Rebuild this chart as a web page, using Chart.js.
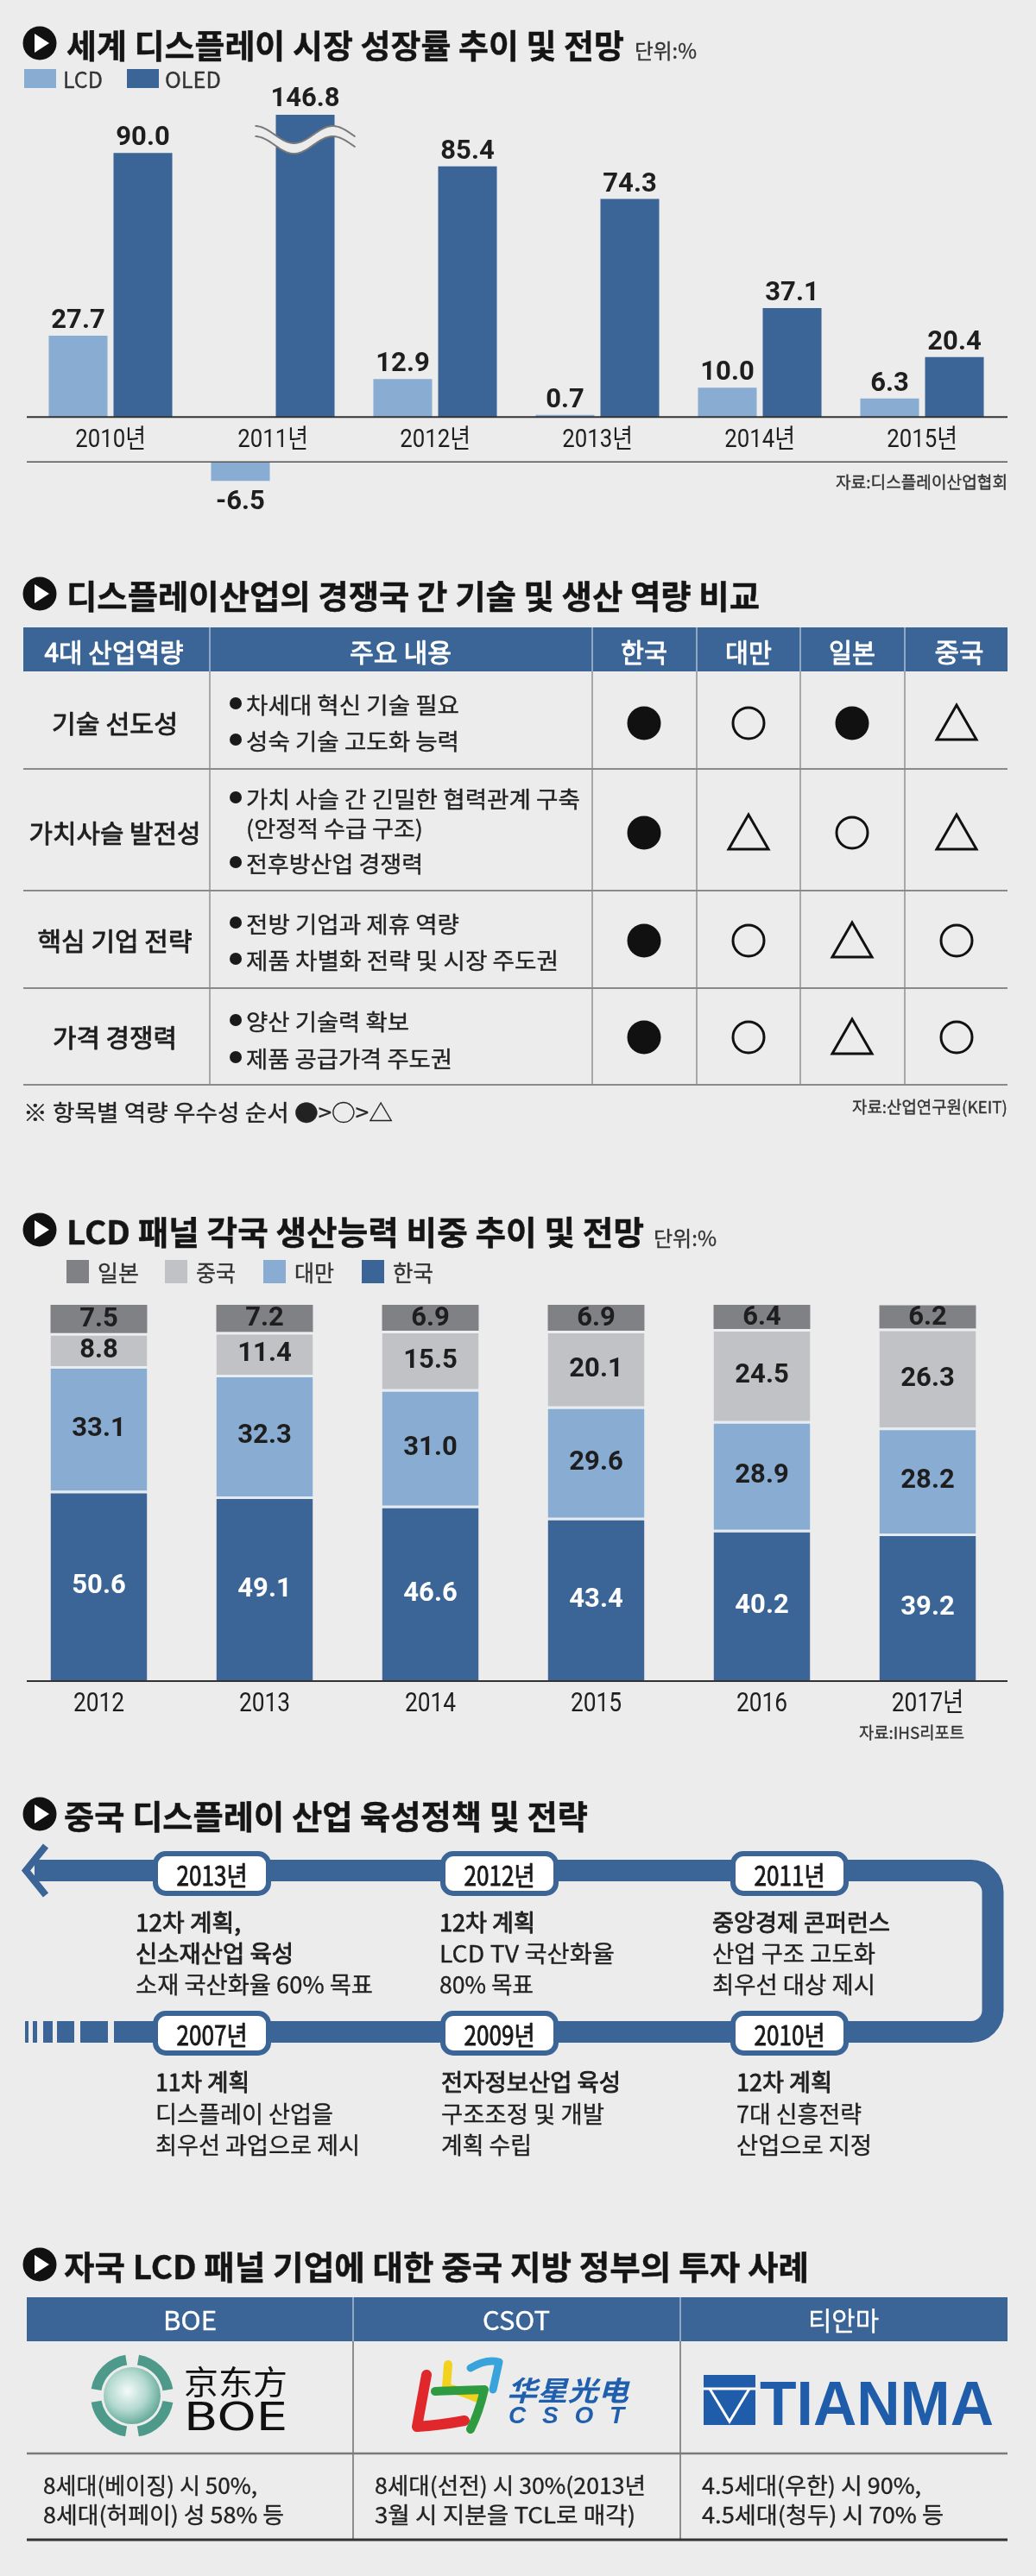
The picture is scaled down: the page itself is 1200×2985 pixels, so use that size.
<!DOCTYPE html>
<html>
<head>
<meta charset="utf-8">
<script src="https://cdn.jsdelivr.net/npm/chart.js@4.4.1/dist/chart.umd.min.js"></script>
<style>
  html, body { margin: 0; padding: 0; background: #ececec; }
  #page { position: relative; width: 1200px; height: 2985px; overflow: hidden; background: #ececec; }
  canvas { position: absolute; left: 0; }
  #art { position: absolute; left: 0; top: 0; }
</style>
</head>
<body>
<div id="page">
  <canvas id="growthChart" width="1200" height="620" style="top:0;width:1200px;height:620px"></canvas>
  <canvas id="shareChart" width="1200" height="540" style="top:1490px;width:1200px;height:540px"></canvas>
  <svg id="art" width="1200" height="2985" xmlns="http://www.w3.org/2000/svg"></svg>
</div>
<script>
// --- chart data ---
const growthYears = ['2010년', '2011년', '2012년', '2013년', '2014년', '2015년'];
const lcdGrowth = [27.7, -6.5, 12.9, 0.7, 10.0, 6.3];
const oledGrowth = [90.0, 146.8, 85.4, 74.3, 37.1, 20.4];

const shareYears = ['2012', '2013', '2014', '2015', '2016', '2017년'];
const shareKorea = [50.6, 49.1, 46.6, 43.4, 40.2, 39.2];
const shareTaiwan = [33.1, 32.3, 31.0, 29.6, 28.9, 28.2];
const shareChina = [8.8, 11.4, 15.5, 20.1, 24.5, 26.3];
const shareJapan = [7.5, 7.2, 6.9, 6.9, 6.4, 6.2];

const BG = '#ececec';
const BLUE = '#3b6596';
const LIGHT_BLUE = '#89acd3';
const CHINA_GRAY = '#c0c2c5';
const JAPAN_GRAY = '#7f8184';
const INK = '#1e1e1e';
const NUM_FONT = 'Roboto, "Noto Sans CJK KR", sans-serif';
const KR = '"Noto Sans CJK KR", sans-serif';

// negatives hang below the year-label strip, axis is cut above GROWTH_MAX
const NEG_BASE = -15.3;
const GROWTH_MAX = 103;

function squashText(ctx, text, cx, cy, font, sx, color) {
  ctx.save();
  ctx.translate(cx, cy);
  ctx.scale(sx, 1);
  ctx.font = font;
  ctx.fillStyle = color;
  ctx.textAlign = 'center';
  ctx.textBaseline = 'middle';
  ctx.fillText(text, 0, 0);
  ctx.restore();
}

function hLine(ctx, x0, x1, y, color, w) {
  ctx.strokeStyle = color;
  ctx.lineWidth = w;
  ctx.beginPath();
  ctx.moveTo(x0, y);
  ctx.lineTo(x1, y);
  ctx.stroke();
}

// wave mark for the cut bar
function drawWave(ctx, cx, cy) {
  const x0 = cx - 58, x1 = cx + 58, gap = 12, amp = 10, period = 90;
  const f = x => cy - amp * Math.cos(2 * Math.PI * (x - x0) / period);
  ctx.save();
  ctx.beginPath();
  for (let x = x0; x <= x1; x += 2) ctx.lineTo(x, f(x) - gap / 2);
  for (let x = x1; x >= x0; x -= 2) ctx.lineTo(x, f(x) + gap / 2);
  ctx.closePath();
  ctx.fillStyle = BG;
  ctx.fill();
  ctx.strokeStyle = '#7a7a7a';
  ctx.lineWidth = 2;
  [-gap / 2, gap / 2].forEach(off => {
    ctx.beginPath();
    for (let x = x0; x <= x1; x += 2) ctx.lineTo(x, f(x) + off);
    ctx.stroke();
  });
  ctx.restore();
}

const growthDecor = {
  id: 'growthDecor',
  afterDatasetsDraw(chart) {
    const { ctx, chartArea, scales: { x, y } } = chart;
    const zeroY = y.getPixelForValue(0);
    const lowY = y.getPixelForValue(NEG_BASE);
    ctx.save();
    hLine(ctx, 31, 1167, zeroY, '#333', 2);
    hLine(ctx, 31, 1167, lowY, '#555', 1.6);
    growthYears.forEach((t, i) => {
      squashText(ctx, t, x.getPixelForValue(i), (zeroY + lowY) / 2 + 1, '30px ' + NUM_FONT, 0.86, INK);
    });
    [lcdGrowth, oledGrowth].forEach((vals, d) => {
      const meta = chart.getDatasetMeta(d);
      vals.forEach((v, i) => {
        const bar = meta.data[i];
        let ty = bar.y - 9;
        if (v < 0) ty = bar.y + 33;
        if (v > GROWTH_MAX) {
          drawWave(ctx, bar.x, chartArea.top + 29);
          ty = chartArea.top - 10;
        }
        ctx.font = 'bold 31px ' + NUM_FONT;
        ctx.fillStyle = INK;
        ctx.textAlign = 'center';
        ctx.textBaseline = 'alphabetic';
        ctx.fillText(v.toFixed(1), bar.x, ty);
      });
    });
    ctx.restore();
  }
};

new Chart(document.getElementById('growthChart').getContext('2d'), {
  type: 'bar',
  data: {
    labels: growthYears,
    datasets: [{
      label: 'LCD',
      data: lcdGrowth.map(v => v < 0 ? [NEG_BASE, NEG_BASE + v] : v),
      backgroundColor: LIGHT_BLUE,
      categoryPercentage: 0.798,
      barPercentage: 0.907
    }, {
      label: 'OLED',
      data: oledGrowth,
      backgroundColor: BLUE,
      categoryPercentage: 0.798,
      barPercentage: 0.907
    }]
  },
  options: {
    responsive: false,
    animation: false,
    layout: { padding: { top: 133, bottom: 62, left: 34, right: 38 } },
    plugins: { legend: { display: false }, tooltip: { enabled: false } },
    scales: {
      x: { display: false },
      y: { display: false, min: -22, max: GROWTH_MAX }
    }
  },
  plugins: [growthDecor]
});

const shareDecor = {
  id: 'shareDecor',
  afterDatasetsDraw(chart) {
    const { ctx, scales: { x, y } } = chart;
    ctx.save();
    chart.data.datasets.forEach((ds, d) => {
      chart.getDatasetMeta(d).data.forEach((bar, i) => {
        ctx.font = 'bold 31px ' + NUM_FONT;
        ctx.fillStyle = d === 0 ? '#ffffff' : INK;
        ctx.textAlign = 'center';
        ctx.textBaseline = 'middle';
        ctx.fillText(ds.data[i].toFixed(1), bar.x, (bar.y + bar.base) / 2 + 1);
      });
    });
    const base = y.getPixelForValue(0);
    hLine(ctx, 31, 1167, base, '#333', 2);
    shareYears.forEach((t, i) => {
      squashText(ctx, t, x.getPixelForValue(i), base + 27, '31px ' + NUM_FONT, 0.85, INK);
    });
    ctx.restore();
  }
};

const sepBorder = { top: 3, right: 0, bottom: 0, left: 0 };
new Chart(document.getElementById('shareChart').getContext('2d'), {
  type: 'bar',
  data: {
    labels: shareYears,
    datasets: [
      { label: '한국', data: shareKorea, backgroundColor: BLUE, borderColor: '#e4eaf1', borderWidth: sepBorder },
      { label: '대만', data: shareTaiwan, backgroundColor: LIGHT_BLUE, borderColor: '#e8edf2', borderWidth: sepBorder },
      { label: '중국', data: shareChina, backgroundColor: CHINA_GRAY, borderColor: '#eeeeee', borderWidth: sepBorder },
      { label: '일본', data: shareJapan, backgroundColor: JAPAN_GRAY, borderWidth: 0 }
    ]
  },
  options: {
    responsive: false,
    animation: false,
    datasets: { bar: { categoryPercentage: 1, barPercentage: 0.583, borderSkipped: false } },
    layout: { padding: { top: 22, bottom: 82, left: 18.5, right: 29.5 } },
    plugins: { legend: { display: false }, tooltip: { enabled: false } },
    scales: {
      x: { display: false, stacked: true },
      y: { display: false, stacked: true, min: 0, max: 100 }
    }
  },
  plugins: [shareDecor]
});

// --- the rest of the infographic (titles, tables, timeline) ---
const parts = [];
// thin outline in the fill colour thickens the glyphs a little, like the original type
const heft = { 400: 0.35, 500: 0.9, 700: 0.45 };
function txt(str, x, y, size, o = {}) {
  const w = o.w ? ` textLength="${o.w}" lengthAdjust="${o.adjust || 'spacingAndGlyphs'}"` : '';
  const base = o.baseline || 'central';
  const fill = o.fill || INK;
  const weight = o.weight || 400;
  const sw = o.heft !== undefined ? o.heft : heft[weight];
  const stroke = sw ? ` stroke="${fill}" stroke-width="${sw}" stroke-linejoin="round"` : '';
  parts.push(`<text x="${x}" y="${y}" font-size="${size}" font-weight="${weight === 500 ? 400 : weight}" fill="${fill}"${stroke}` +
    ` dominant-baseline="${base}" font-family='${o.family || KR}'${o.italic ? ' font-style="italic"' : ''}${w}>${str}</text>`);
}
function ctxt(str, cx, y, size, w, o = {}) { txt(str, cx - w / 2, y, size, Object.assign({ w }, o)); }
function rtxt(str, rx, y, size, w, o = {}) { txt(str, rx - w, y, size, Object.assign({ w }, o)); }

function title(str, cy, x, w) {
  parts.push(`<circle cx="46" cy="${cy}" r="19.5" fill="#111"/>`);
  parts.push(`<polygon points="40,${cy - 11} 40,${cy + 11} 57,${cy}" fill="#fff"/>`);
  txt(str, x, cy, 38, { weight: 700, w, fill: '#151515' });
}

// section 1
title('세계 디스플레이 시장 성장률 추이 및 전망', 50, 77, 646);
txt('단위:%', 735, 57, 24, { w: 72, fill: '#333' });
parts.push(`<rect x="28" y="80" width="37" height="22" fill="${LIGHT_BLUE}"/>`);
txt('LCD', 73, 91, 25, { w: 46, fill: '#333' });
parts.push(`<rect x="147" y="80" width="37" height="22" fill="${BLUE}"/>`);
txt('OLED', 191, 91, 25, { w: 65, fill: '#333' });
rtxt('자료:디스플레이산업협회', 1167, 557, 19, 199, { fill: '#333' });

// section 2 table
title('디스플레이산업의 경쟁국 간 기술 및 생산 역량 비교', 688, 77, 803);
const headCols = [['4대 산업역량', 132, 161], ['주요 내용', 464, 118], ['한국', 746, 54], ['대만', 867, 54], ['일본', 987, 54], ['중국', 1111, 57]];
const colLines = [243, 686, 807, 927, 1048];
const markCols = [746, 867, 987, 1108];
const capability = [
  { name: '기술 선도성', w: 146, cy: 837, bottom: 891,
    notes: [['차세대 혁신 기술 필요', 815, 247, true], ['성숙 기술 고도화 능력', 857, 247, true]],
    marks: ['full', 'open', 'full', 'tri'] },
  { name: '가치사슬 발전성', w: 199, cy: 964, bottom: 1032,
    notes: [['가치 사슬 간 긴밀한 협력관계 구축', 924, 387, true], ['(안정적 수급 구조)', 958, 205, false], ['전후방산업 경쟁력', 999, 205, true]],
    marks: ['full', 'tri', 'open', 'tri'] },
  { name: '핵심 기업 전략', w: 179, cy: 1089, bottom: 1145,
    notes: [['전방 기업과 제휴 역량', 1069, 247, true], ['제품 차별화 전략 및 시장 주도권', 1111, 362, true]],
    marks: ['full', 'open', 'tri', 'open'] },
  { name: '가격 경쟁력', w: 144, cy: 1201, bottom: 1257,
    notes: [['양산 기술력 확보', 1182, 189, true], ['제품 공급가격 주도권', 1225, 239, true]],
    marks: ['full', 'open', 'tri', 'open'] }
];
parts.push(`<rect x="27" y="727" width="1140" height="51" fill="${BLUE}"/>`);
colLines.forEach(x => {
  parts.push(`<line x1="${x}" y1="727" x2="${x}" y2="778" stroke="#c9d4e2" stroke-width="1.2"/>`);
  parts.push(`<line x1="${x}" y1="778" x2="${x}" y2="1257" stroke="#8c8c8c" stroke-width="1.4"/>`);
});
headCols.forEach(([t, cx, w]) => ctxt(t, cx, 754, 30, w, { fill: '#fff', weight: 500 }));
capability.forEach(row => {
  ctxt(row.name, 133, row.cy, 29, row.w, { weight: 500 });
  row.notes.forEach(([t, cy, w, bullet]) => {
    if (bullet) parts.push(`<circle cx="273" cy="${cy}" r="7" fill="#1a1a1a"/>`);
    txt(t, 285, cy, 26, { w, fill: '#222' });
  });
  row.marks.forEach((m, j) => {
    const cx = markCols[j], cy = row.cy + 1;
    if (m === 'full') parts.push(`<circle cx="${cx}" cy="${cy}" r="19.5" fill="#111"/>`);
    else if (m === 'open') parts.push(`<circle cx="${cx}" cy="${cy}" r="18" fill="none" stroke="#111" stroke-width="3"/>`);
    else parts.push(`<polygon points="${cx - 23},${cy + 19} ${cx + 23},${cy + 19} ${cx},${cy - 21}" fill="none" stroke="#111" stroke-width="3"/>`);
  });
  parts.push(`<line x1="27" y1="${row.bottom}" x2="1167" y2="${row.bottom}" stroke="#8a8a8a" stroke-width="2"/>`);
});
txt('※ 항목별 역량 우수성 순서 ●&gt;○&gt;△', 27, 1287, 26, { w: 428, fill: '#222' });
rtxt('자료:산업연구원(KEIT)', 1167, 1281, 19, 180, { fill: '#333' });

// section 3 titles / legend
title('LCD 패널 각국 생산능력 비중 추이 및 전망', 1425, 77, 669);
txt('단위:%', 757, 1433, 24, { w: 73, fill: '#333' });
[['일본', JAPAN_GRAY, 77, 48], ['중국', CHINA_GRAY, 191, 46], ['대만', LIGHT_BLUE, 305, 46], ['한국', BLUE, 419, 47]].forEach(([t, c, x, w]) => {
  parts.push(`<rect x="${x}" y="1460" width="26" height="27" fill="${c}"/>`);
  txt(t, x + 36, 1473, 26, { w, fill: '#333' });
});
rtxt('자료:IHS리포트', 1117, 2006, 19, 122, { fill: '#333' });

// section 4 timeline
title('중국 디스플레이 산업 육성정책 및 전략', 2102, 74, 607);
parts.push(`<path d="M 40 2167.5 H 1125 A 25 25 0 0 1 1150 2192.5 V 2329.5 A 25 25 0 0 1 1125 2354.5 H 132" fill="none" stroke="${BLUE}" stroke-width="25"/>`);
parts.push(`<polyline points="53,2139 30,2167.5 53,2196" fill="none" stroke="${BLUE}" stroke-width="8" stroke-linecap="butt"/>`);
[[29, 4], [38, 5], [50, 11], [66, 20], [93, 32]].forEach(([x, w]) => parts.push(`<rect x="${x}" y="2342" width="${w}" height="25" fill="${BLUE}"/>`));
const policySteps = [
  { year: '2013년', px: 177, py: 2145, tx: 157, ty: [2226, 2262, 2298], lines: [['12차 계획,', 122], ['신소재산업 육성', 183], ['소재 국산화율 60% 목표', 275]], strong: 2 },
  { year: '2012년', px: 510, py: 2145, tx: 509, ty: [2226, 2262, 2298], lines: [['12차 계획', 111], ['LCD TV 국산화율', 203], ['80% 목표', 109]], strong: 1 },
  { year: '2011년', px: 846, py: 2145, tx: 825, ty: [2226, 2262, 2298], lines: [['중앙경제 콘퍼런스', 206], ['산업 구조 고도화', 189], ['최우선 대상 제시', 189]], strong: 1 },
  { year: '2007년', px: 177, py: 2330, tx: 180, ty: [2411, 2448, 2484], lines: [['11차 계획', 109], ['디스플레이 산업을', 206], ['최우선 과업으로 제시', 237]], strong: 1 },
  { year: '2009년', px: 510, py: 2330, tx: 511, ty: [2411, 2448, 2484], lines: [['전자정보산업 육성', 208], ['구조조정 및 개발', 189], ['계획 수립', 105]], strong: 1 },
  { year: '2010년', px: 846, py: 2330, tx: 853, ty: [2411, 2448, 2484], lines: [['12차 계획', 111], ['7대 신흥전략', 145], ['산업으로 지정', 157]], strong: 1 }
];
policySteps.forEach(s => {
  parts.push(`<rect x="${s.px + 3}" y="${s.py + 3}" width="131" height="46" rx="12" fill="#fff" stroke="${BLUE}" stroke-width="6"/>`);
  ctxt(s.year, s.px + 68.5, s.py + 26, 31, 82, { weight: 500, fill: '#1a1a1a' });
  s.lines.forEach(([t, w], k) => txt(t, s.tx, s.ty[k], 27, { w, weight: k < s.strong ? 500 : 400, fill: '#1f1f1f' }));
});

// section 5 table with logos
title('자국 LCD 패널 기업에 대한 중국 지방 정부의 투자 사례', 2624, 74, 863);
parts.push(`<rect x="31" y="2662" width="1136" height="51" fill="${BLUE}"/>`);
[409, 788].forEach(x => {
  parts.push(`<line x1="${x}" y1="2662" x2="${x}" y2="2713" stroke="#c9d4e2" stroke-width="1.2"/>`);
  parts.push(`<line x1="${x}" y1="2713" x2="${x}" y2="2943" stroke="#666" stroke-width="1.4"/>`);
});
ctxt('BOE', 220, 2687, 30, 62, { fill: '#fff' });
ctxt('CSOT', 598, 2687, 30, 78, { fill: '#fff' });
ctxt('티안마', 977, 2687, 30, 82, { fill: '#fff' });
parts.push(`<line x1="31" y1="2843" x2="1167" y2="2843" stroke="#7a7a7a" stroke-width="2.5"/>`);
parts.push(`<line x1="31" y1="2943" x2="1167" y2="2943" stroke="#333" stroke-width="3"/>`);
const investCells = [
  ['8세대(베이징) 시 50%,', 50, 2878, 248], ['8세대(허페이) 성 58% 등', 50, 2912, 279],
  ['8세대(선전) 시 30%(2013년', 434, 2878, 314], ['3월 시 지분을 TCL로 매각)', 434, 2912, 302],
  ['4.5세대(우한) 시 90%,', 813, 2878, 254], ['4.5세대(청두) 시 70% 등', 813, 2912, 280]
];
investCells.forEach(([t, x, y, w]) => txt(t, x, y, 26, { w, fill: '#222' }));

// BOE logo
parts.push(`<defs><radialGradient id="sph" cx="0.42" cy="0.42" r="0.62"><stop offset="0" stop-color="#f4faf8"/><stop offset="0.55" stop-color="#b3d9cf"/><stop offset="1" stop-color="#5fa796"/></radialGradient></defs>`);
parts.push(`<circle cx="153" cy="2776" r="33" fill="url(#sph)"/>`);
parts.push(`<circle cx="153" cy="2776" r="42" fill="none" stroke="#4e9a8a" stroke-width="12" stroke-dasharray="52 13.9" stroke-dashoffset="-6.95"/>`);
txt('京东方', 213, 2757, 38, { w: 120, family: '"Noto Sans CJK SC", sans-serif', fill: '#111', heft: 0 });
txt('BOE', 213, 2816, 44, { w: 120, baseline: 'alphabetic', family: '"DejaVu Sans", sans-serif', fill: '#111', heft: 0 });

// CSOT logo
parts.push(`<path d="M 494 2752 Q 487 2790 483 2812 Q 512 2810 538 2805" fill="none" stroke="#e0272b" stroke-width="12" stroke-linecap="round" stroke-linejoin="round"/>`);
parts.push(`<path d="M 519 2740 L 517 2767 Q 536 2771 553 2779" fill="none" stroke="#f2d21c" stroke-width="10" stroke-linecap="round"/>`);
parts.push(`<path d="M 504 2771 L 561 2769 Q 555 2795 545 2815" fill="none" stroke="#2e9b40" stroke-width="10" stroke-linecap="round" stroke-linejoin="round"/>`);
parts.push(`<path d="M 545 2744 Q 563 2733 578 2737 L 571 2769" fill="none" stroke="#39a3dc" stroke-width="9" stroke-linecap="round" stroke-linejoin="round"/>`);
txt('华星光电', 587, 2768, 32, { w: 141, weight: 700, italic: true, family: '"Noto Sans CJK SC", sans-serif', fill: '#1f5fae', heft: 0 });
txt('CSOT', 589, 2808, 28, { w: 134, adjust: 'spacing', weight: 700, italic: true, baseline: 'alphabetic', family: '"Liberation Sans", sans-serif', fill: '#1f5fae', heft: 0 });

// TIANMA logo
parts.push(`<rect x="815" y="2752" width="60" height="58" fill="#1f5dab"/>`);
parts.push(`<polyline points="815,2768 875,2768" stroke="#fff" stroke-width="3"/>`);
parts.push(`<polyline points="822,2768 845,2806 868,2768" fill="none" stroke="#fff" stroke-width="3"/>`);
txt('TIANMA', 880, 2810, 72, { w: 271, weight: 700, baseline: 'alphabetic', family: '"Liberation Sans", sans-serif', fill: '#1f5dab', heft: 0 });

document.getElementById('art').innerHTML = parts.join('');
</script>
</body>
</html>
